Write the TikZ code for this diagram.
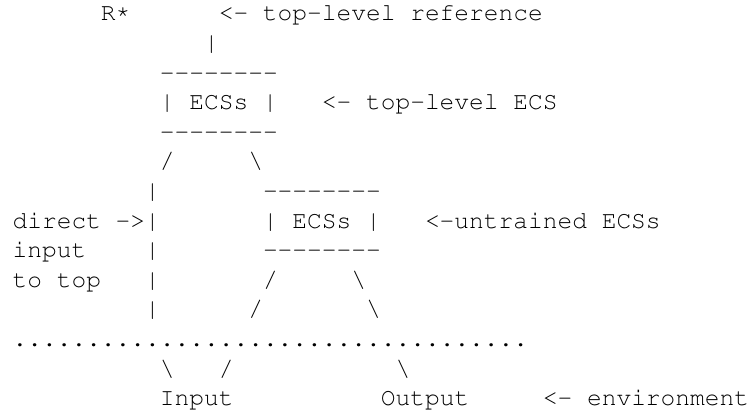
\documentclass[tikz,border=0pt]{standalone}
\usepackage[T1]{fontenc}
\frenchspacing

% one row of the monospaced sketch (Courier), placed on its baseline
\tikzset{
  asciirow/.style={anchor=base west, inner sep=0pt, outer sep=0pt,
    font=\fontfamily{pcr}\fontsize{24.55pt}{29.6pt}\selectfont}
}
\newcommand{\bs}{\textbackslash}
\newcommand{\dashrule}{-{}-{}-{}-{}-{}-{}-{}-}
\newcommand{\upstar}{\raisebox{0.12em}{*}}

\begin{document}
\begin{tikzpicture}[x=1pt,y=1pt]
\useasboundingbox (0,0) rectangle (749,412);

\node[asciirow] (line01) at (12.6,391.0) {~~~~~~R\upstar~~~~~~<-~top-level~reference};
\node[asciirow] (line02) at (12.6,361.4) {~~~~~~~~~~~~~|};
\node[asciirow] (line03) at (12.6,331.8) {~~~~~~~~~~\dashrule};
\node[asciirow] (line04) at (12.6,302.2) {~~~~~~~~~~|~ECSs~|~~~<-~top-level~ECS};
\node[asciirow] (line05) at (12.6,272.6) {~~~~~~~~~~\dashrule};
\node[asciirow] (line06) at (12.6,243.0) {~~~~~~~~~~/~~~~~\bs};
\node[asciirow] (line07) at (12.6,213.4) {~~~~~~~~~|~~~~~~~\dashrule};
\node[asciirow] (line08) at (12.6,183.8) {direct~->|~~~~~~~|~ECSs~|~~~<-untrained~ECSs};
\node[asciirow] (line09) at (12.6,154.2) {input~~~~|~~~~~~~\dashrule};
\node[asciirow] (line10) at (12.6,124.6) {to~top~~~|~~~~~~~/~~~~~\bs};
\node[asciirow] (line11) at (12.6,95.0)  {~~~~~~~~~|~~~~~~/~~~~~~~\bs};
\node[asciirow] (line12) at (12.6,65.4)  {...................................};
\node[asciirow] (line13) at (12.6,35.8)  {~~~~~~~~~~\bs~~~/~~~~~~~~~~~\bs};
\node[asciirow] (line14) at (12.6,6.2)   {~~~~~~~~~~Input~~~~~~~~~~Output~~~~~<-~environment};
\end{tikzpicture}
\end{document}
